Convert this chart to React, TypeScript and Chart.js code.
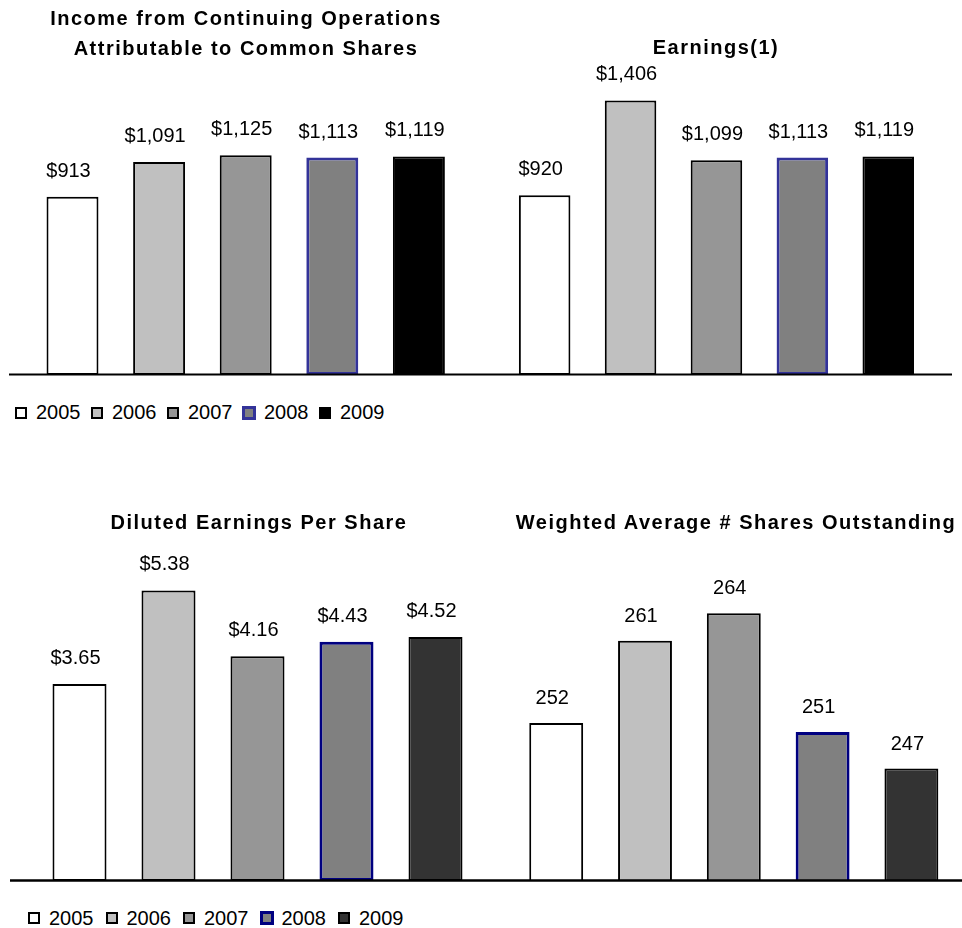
import React, { useEffect, useRef } from "react";
import { Chart, registerables } from "chart.js";

Chart.register(...registerables);

// ---- data ----
const years = ["2005", "2006", "2007", "2008", "2009"];
const incomeContinuing = [913, 1091, 1125, 1113, 1119];
const earnings = [920, 1406, 1099, 1113, 1119];
const dilutedEps = [3.65, 5.38, 4.16, 4.43, 4.52];
const sharesOutstanding = [252, 261, 264, 251, 247];

const titleIncome = ["Income from Continuing Operations", "Attributable to Common Shares"];
const titleEarnings = ["Earnings(1)"];
const titleEps = ["Diluted Earnings Per Share"];
const titleShares = ["Weighted Average # Shares Outstanding"];

// ---- styles ----
const topFills = ["#FFFFFF", "#C0C0C0", "#969696", "#808080", "#000000"];
const topBorders = ["#000000", "#000000", "#000000", "#333399", "#000000"];
const bottomFills = ["#FFFFFF", "#C0C0C0", "#969696", "#808080", "#333333"];
const bottomBorders = ["#000000", "#000000", "#000000", "#000080", "#000000"];
const borderWidths = [2, 2, 2, 3, 2];

const FONT = "'Liberation Sans', Arial, Helvetica, sans-serif";

const fmtDollarInt = (v: number) => "$" + v.toLocaleString("en-US");
const fmtDollar2 = (v: number) => "$" + v.toFixed(2);
const fmtPlain = (v: number) => String(v);

const labelPlugin = {
  id: "valueLabels",
  afterDatasetsDraw(chart: any, _args: any, opts: any) {
    const ctx = chart.ctx;
    const meta = chart.getDatasetMeta(0);
    const data = chart.data.datasets[0].data as number[];
    ctx.save();
    ctx.font = `20px ${FONT}`;
    ctx.fillStyle = "#000000";
    ctx.textAlign = "center";
    ctx.textBaseline = "alphabetic";
    meta.data.forEach((bar: any, i: number) => {
      ctx.fillText(opts.fmt(data[i]), bar.x + (opts.dx ?? 0), bar.y - (opts.gap ?? 20));
    });
    ctx.restore();
  },
};

const baselinePlugin = {
  id: "baseLine",
  afterDatasetsDraw(chart: any, _args: any, opts: any) {
    const ctx = chart.ctx;
    ctx.save();
    ctx.strokeStyle = "#000000";
    ctx.lineWidth = opts.width;
    ctx.beginPath();
    ctx.moveTo(opts.x0, opts.y);
    ctx.lineTo(opts.x1, opts.y);
    ctx.stroke();
    ctx.restore();
  },
};

type PanelProps = {
  left: number;
  top: number;
  width: number;
  height: number;
  values: number[];
  fills: string[];
  borders: string[];
  min: number;
  max: number;
  padL: number;
  padR: number;
  padB: number;
  barPct: number;
  fmt: (v: number) => string;
  gap: number;
  lineX0: number;
  lineX1: number;
  lineY: number;
  lineW: number;
};

function Panel(p: PanelProps) {
  const ref = useRef<HTMLCanvasElement | null>(null);
  useEffect(() => {
    if (!ref.current) return;
    const chart = new Chart(ref.current, {
      type: "bar",
      data: {
        labels: years,
        datasets: [
          {
            data: p.values,
            backgroundColor: p.fills,
            borderColor: p.borders,
            borderWidth: borderWidths,
            borderSkipped: false,
            barPercentage: p.barPct,
            categoryPercentage: 1,
          } as any,
        ],
      },
      options: {
        responsive: false,
        animation: false,
        devicePixelRatio: 1,
        layout: { padding: { left: p.padL, right: p.padR, top: 0, bottom: p.padB } },
        scales: {
          x: { display: false },
          y: { display: false, min: p.min, max: p.max },
        },
        plugins: {
          legend: { display: false },
          tooltip: { enabled: false },
          valueLabels: { fmt: p.fmt, dx: -4, gap: p.gap },
          baseLine: { x0: p.lineX0, x1: p.lineX1, y: p.lineY, width: p.lineW },
        } as any,
      },
      plugins: [labelPlugin, baselinePlugin],
    });
    return () => chart.destroy();
  }, []);
  return (
    <canvas
      ref={ref}
      width={p.width}
      height={p.height}
      style={{ position: "absolute", left: p.left, top: p.top, width: p.width, height: p.height }}
    />
  );
}

function Title({ lines, cx, top }: { lines: string[]; cx: number; top: number }) {
  return (
    <div
      style={{
        position: "absolute",
        left: cx - 250,
        width: 500,
        top,
        textAlign: "center",
        font: `bold 20px ${FONT}`,
        lineHeight: "29.5px",
        letterSpacing: "1.5px",
        color: "#000",
        whiteSpace: "nowrap",
        zIndex: 2,
      }}
    >
      {lines.map((l, i) => (
        <div key={i}>{l}</div>
      ))}
    </div>
  );
}

function Legend({
  x0,
  pitch,
  boxTop,
  textTop,
  fills,
  borders,
}: {
  x0: number;
  pitch: number;
  boxTop: number;
  textTop: number;
  fills: string[];
  borders: string[];
}) {
  return (
    <>
      {years.map((y, i) => {
        const x = x0 + i * pitch;
        const big = i === 3;
        const size = big ? 14 : 12;
        const off = big ? -1 : 0;
        return (
          <React.Fragment key={y}>
            <div
              style={{
                position: "absolute",
                left: x + off,
                top: boxTop + off,
                width: size,
                height: size,
                boxSizing: "border-box",
                border: `${big ? 3 : 2}px solid ${borders[i]}`,
                background: fills[i],
              }}
            />
            <div
              style={{
                position: "absolute",
                left: x + 21,
                top: textTop,
                font: `20px ${FONT}`,
                lineHeight: "20px",
                color: "#000",
                whiteSpace: "nowrap",
              }}
            >
              {y}
            </div>
          </React.Fragment>
        );
      })}
    </>
  );
}

export default function App() {
  return (
    <div
      style={{
        position: "absolute",
        left: 0,
        top: 0,
        width: 962,
        height: 928,
        background: "#fff",
        overflow: "hidden",
      }}
    >
      <Panel
        left={0}
        top={0}
        width={481}
        height={380}
        values={incomeContinuing}
        fills={topFills}
        borders={topBorders}
        min={0}
        max={1920}
        padL={29.2}
        padR={481 - 462.2}
        padB={5}
        barPct={0.6}
        fmt={fmtDollarInt}
        gap={20}
        lineX0={9}
        lineX1={481}
        lineY={374.5}
        lineW={2}
      />
      <Panel
        left={481}
        top={0}
        width={481}
        height={380}
        values={earnings}
        fills={topFills}
        borders={topBorders}
        min={0}
        max={1920}
        padL={501.7 - 481}
        padR={962 - 931.2}
        padB={5}
        barPct={0.6}
        fmt={fmtDollarInt}
        gap={20}
        lineX0={0}
        lineX1={952 - 481}
        lineY={374.5}
        lineW={2}
      />
      <Panel
        left={0}
        top={500}
        width={481}
        height={390}
        values={dilutedEps}
        fills={bottomFills}
        borders={bottomBorders}
        min={0}
        max={7.055}
        padL={35}
        padR={1}
        padB={9}
        barPct={0.607}
        fmt={fmtDollar2}
        gap={20}
        lineX0={10}
        lineX1={481}
        lineY={380.5}
        lineW={2.5}
      />
      <Panel
        left={481}
        top={500}
        width={481}
        height={390}
        values={sharesOutstanding}
        fills={bottomFills}
        borders={bottomBorders}
        min={234.7}
        max={276.4}
        padL={511.8 - 481}
        padR={962 - 955.8}
        padB={9}
        barPct={0.607}
        fmt={fmtPlain}
        gap={19}
        lineX0={0}
        lineX1={481}
        lineY={380.5}
        lineW={2.5}
      />
      <Title lines={titleIncome} cx={246} top={4.3} />
      <Title lines={titleEarnings} cx={716} top={33.3} />
      <Title lines={titleEps} cx={259} top={508.3} />
      <Title lines={titleShares} cx={736} top={508.3} />
      <Legend x0={15} pitch={76} boxTop={407} textTop={402} fills={topFills} borders={topBorders} />
      <Legend x0={28} pitch={77.5} boxTop={911.5} textTop={908} fills={bottomFills} borders={bottomBorders} />
    </div>
  );
}
